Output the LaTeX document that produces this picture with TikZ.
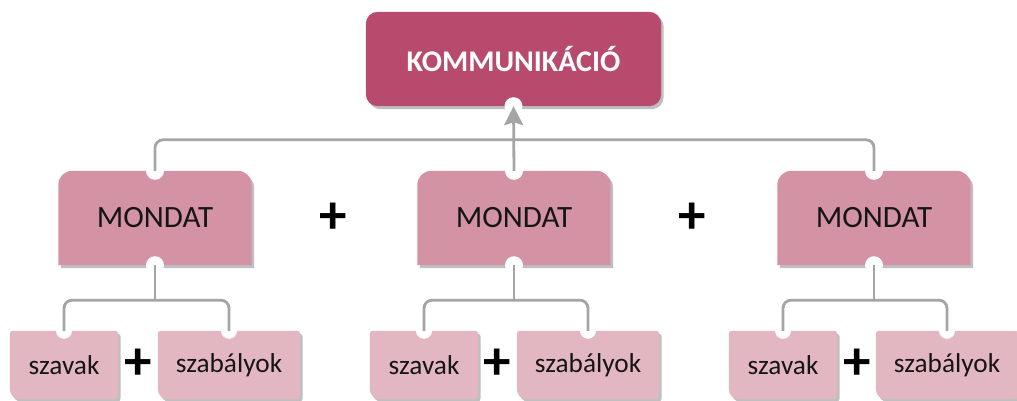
\documentclass[tikz,border=0pt]{standalone}
\usepackage{fontspec}
\setmainfont{Carlito}
\usetikzlibrary{shadows,arrows.meta}
\pgfdeclarelayer{background}
\pgfsetlayers{background,main}
\definecolor{kcol}{HTML}{B84A6E}
\definecolor{mcol}{HTML}{D393A5}
\definecolor{scol}{HTML}{E2B7C2}
\definecolor{lcol}{HTML}{A5A5A5}
\definecolor{tcol}{HTML}{151515}
\tikzset{
  kbox/.style={inner sep=0pt, minimum width=295pt, minimum height=94pt, text=white,
    font=\fontsize{30}{34}\selectfont\bfseries},
  mbox/.style={inner sep=0pt, minimum width=193pt, minimum height=94pt, text=tcol,
    font=\fontsize{31}{34}\selectfont},
  sbox/.style={inner sep=0pt, minimum height=68pt, text=tcol,
    font=\fontsize{27.3}{30}\selectfont},
  plussign/.style={inner sep=0pt, text=black, font=\fontsize{55}{60}\selectfont\bfseries},
  conn/.style={draw=lcol, line width=2.8pt, rounded corners=8pt},
  boxshadow/.style={drop shadow={shadow xshift=2.5pt, shadow yshift=-3pt, opacity=0.25, fill=black}},
  notch/.style={fill=white},
}
\newcommand{\mondatshape}[1]{%
  \path[fill=mcol, boxshadow] (#1.south west) -- (#1.south east)
    -- ([yshift=-14pt]#1.north east) arc[start angle=0, end angle=90, radius=14pt]
    -- ([xshift=14pt]#1.north west) arc[start angle=90, end angle=180, radius=14pt] -- cycle;
  \fill[notch] (#1.north) circle[radius=9pt];
  \fill[notch] (#1.south) circle[radius=9pt];
}
\newcommand{\smallshape}[1]{%
  \path[fill=scol, boxshadow] ([xshift=10pt]#1.south west) -- ([xshift=-4pt]#1.south east)
    arc[start angle=-90, end angle=0, radius=4pt]
    -- ([yshift=-3pt]#1.north east) arc[start angle=0, end angle=90, radius=3pt]
    -- ([xshift=3pt]#1.north west) arc[start angle=90, end angle=180, radius=3pt]
    -- ([yshift=10pt]#1.south west) arc[start angle=180, end angle=270, radius=10pt] -- cycle;
  \fill[notch] (#1.north) circle[radius=8pt];
}
\begin{document}
\begin{tikzpicture}[x=1pt, y=1pt]
\useasboundingbox (0,0) rectangle (1017,400);
% nodes
\node[kbox] (k) at (513.5,341) {KOMMUNIKÁCIÓ};
\node[mbox] (m1) at (155,182) {MONDAT};
\node[mbox] (m2) at (514,182) {MONDAT};
\node[mbox] (m3) at (874,182) {MONDAT};
\node[sbox, minimum width=108pt] (s1) at (64,35) {szavak};
\node[sbox, minimum width=142pt] (b1) at (229,35) {szabályok};
\node[sbox, minimum width=108pt] (s2) at (424,35) {szavak};
\node[sbox, minimum width=142pt] (b2) at (588,35) {szabályok};
\node[sbox, minimum width=108pt] (s3) at (783,35) {szavak};
\node[sbox, minimum width=142pt] (b3) at (947,35) {szabályok};
\node[plussign] (p1) at (333.5,182) {+};
\node[plussign] (p2) at (692,182) {+};
\node[plussign] (q1) at (138,36) {+};
\node[plussign] (q2) at (497,36) {+};
\node[plussign] (q3) at (857,36) {+};
% shapes
\begin{pgfonlayer}{background}
  \path[fill=kcol, boxshadow, rounded corners=12pt] (k.south west) rectangle (k.north east);
  \fill[notch] (k.south) circle[radius=9pt];
  \mondatshape{m1}
  \mondatshape{m2}
  \mondatshape{m3}
  \smallshape{s1}\smallshape{b1}
  \smallshape{s2}\smallshape{b2}
  \smallshape{s3}\smallshape{b3}
\end{pgfonlayer}
% connectors
\draw[conn] (m1.north) |- ([yshift=31pt]m2.north) -| (m3.north);
\draw[conn, -{Stealth[length=19pt, width=19pt, inset=3pt]}] (m2.north) -- (k.south);
\coordinate (j1) at ([yshift=-35pt]m1.south);
\coordinate (j2) at ([yshift=-35pt]m2.south);
\coordinate (j3) at ([yshift=-35pt]m3.south);
\draw[conn] (m1.south) -- (j1);
\draw[conn] (s1.north) |- (j1) -| (b1.north);
\draw[conn] (m2.south) -- (j2);
\draw[conn] (s2.north) |- (j2) -| (b2.north);
\draw[conn] (m3.south) -- (j3);
\draw[conn] (s3.north) |- (j3) -| (b3.north);
\end{tikzpicture}
\end{document}
